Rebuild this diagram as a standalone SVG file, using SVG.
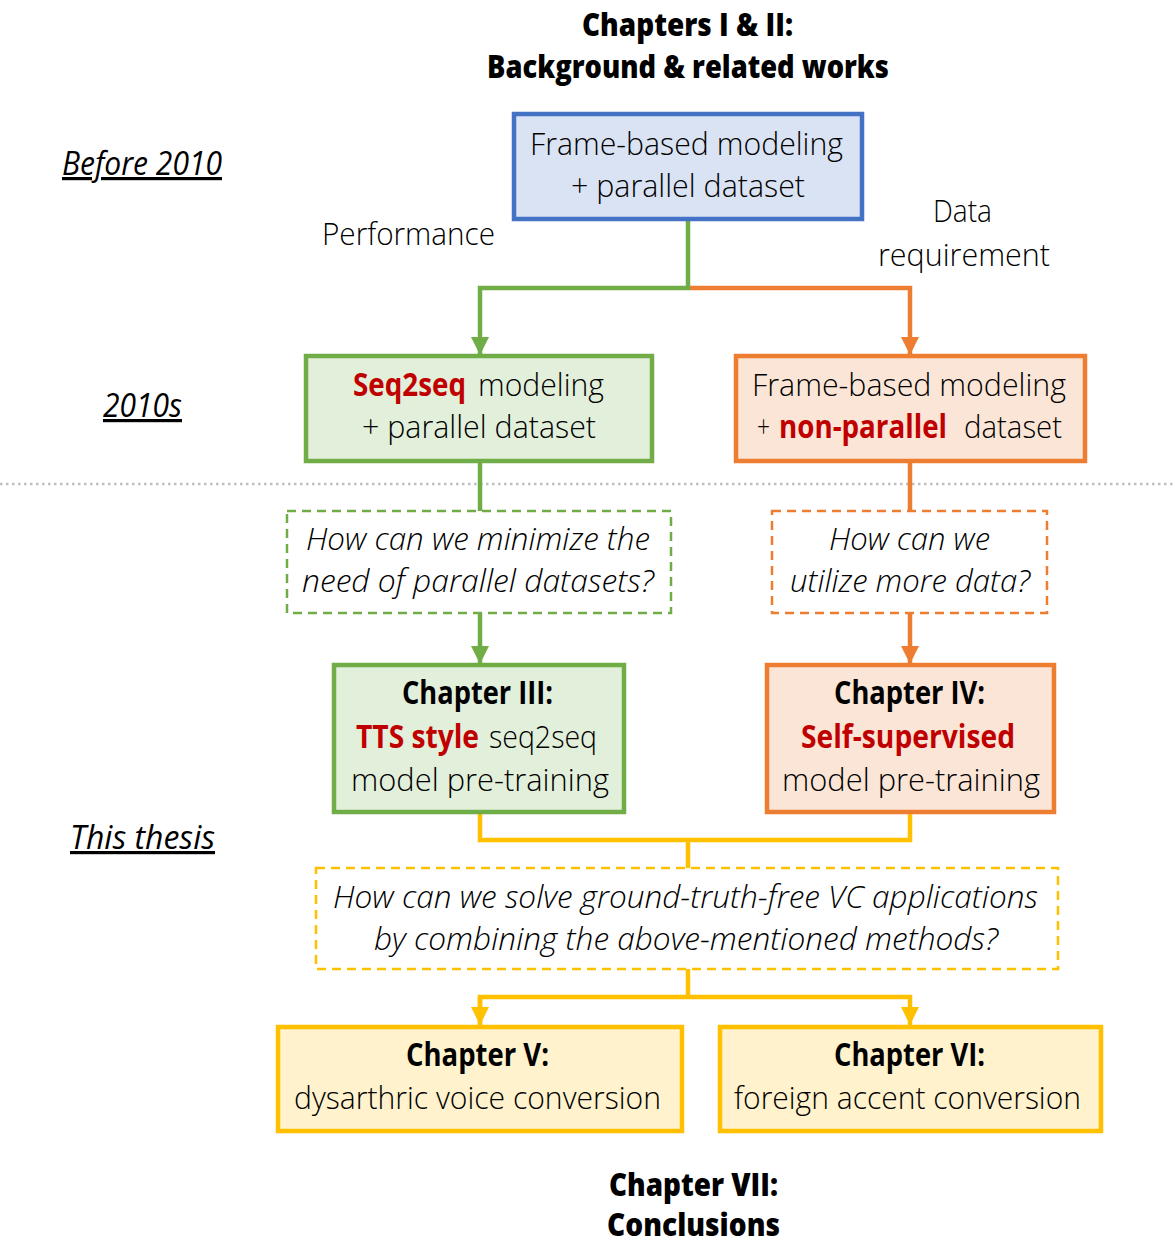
<svg xmlns="http://www.w3.org/2000/svg" width="1176" height="1245" viewBox="0 0 1176 1245">
<style>
text{font-family:"Open Sans","Noto Sans","Liberation Sans",sans-serif;fill:#000}
.t{font-size:32px;font-weight:300}
.b{font-size:32px;font-weight:700}
.r{fill:#c00000}
.i{font-size:32px;font-style:italic;font-weight:300}
.h{font-size:32px;font-weight:800}
.lab{font-size:32px;font-style:italic;font-weight:400;text-decoration:underline}
.c{stroke-width:4.5;fill:none}
.g{stroke:#70ad47}
.o{stroke:#ed7d31}
.y{stroke:#ffc000}
.box{stroke-width:4.5}
.dash{stroke-width:2.5;stroke-dasharray:9 6;fill:#fff}
</style>
<defs>
<marker id="ag" viewBox="0 0 10 10" refX="10" refY="5" markerWidth="4" markerHeight="4" orient="auto"><path d="M0,0L10,5L0,10z" fill="#70ad47"/></marker>
<marker id="ao" viewBox="0 0 10 10" refX="10" refY="5" markerWidth="4" markerHeight="4" orient="auto"><path d="M0,0L10,5L0,10z" fill="#ed7d31"/></marker>
<marker id="ay" viewBox="0 0 10 10" refX="10" refY="5" markerWidth="4" markerHeight="4" orient="auto"><path d="M0,0L10,5L0,10z" fill="#ffc000"/></marker>
</defs>

<g id="title">
<text class="h" x="582" y="36" textLength="211" lengthAdjust="spacingAndGlyphs">Chapters I &amp; II:</text>
<text class="h" x="487" y="78" textLength="402" lengthAdjust="spacingAndGlyphs">Background &amp; related works</text>
</g>

<g id="labels">
<text class="lab" x="62" y="175" textLength="160" lengthAdjust="spacingAndGlyphs">Before 2010</text>
<text class="lab" x="103" y="417" textLength="79" lengthAdjust="spacingAndGlyphs">2010s</text>
<text class="lab" x="70" y="849" textLength="145" lengthAdjust="spacingAndGlyphs">This thesis</text>
<text class="t" x="322" y="245" textLength="173" lengthAdjust="spacingAndGlyphs">Performance</text>
<text class="t" x="933" y="222" textLength="59" lengthAdjust="spacingAndGlyphs">Data</text>
<text class="t" x="878" y="266" textLength="172" lengthAdjust="spacingAndGlyphs">requirement</text>
</g>

<line id="divider" x1="0" y1="484" x2="1176" y2="484" stroke="#bfbfbf" stroke-width="2.5" stroke-dasharray="2.5 3.5"/>

<g id="connectors">
<path class="c g" d="M688,219V288H480V355" marker-end="url(#ag)"/>
<path class="c o" d="M690,288H910V355" marker-end="url(#ao)"/>
<path class="c g" d="M480,461V511"/>
<path class="c g" d="M480,613V664" marker-end="url(#ag)"/>
<path class="c o" d="M910,461V511"/>
<path class="c o" d="M910,613V664" marker-end="url(#ao)"/>
<path class="c y" d="M480,812V840H910V812M688,840V868"/>
<path class="c y" d="M688,969V997"/>
<path class="c y" d="M480,1025V997H910V1025" marker-end="url(#ay)"/>
<path class="c y" d="M480,997V1025" marker-end="url(#ay)"/>
</g>

<g id="n-frame">
<rect class="box" x="514" y="114" width="348" height="105" fill="#dae3f3" stroke="#4472c4"/>
<text class="t" x="530" y="155" textLength="313" lengthAdjust="spacingAndGlyphs">Frame-based modeling</text>
<text class="t" x="571" y="197" textLength="234" lengthAdjust="spacingAndGlyphs">+ parallel dataset</text>
</g>

<g id="n-seq2seq">
<rect class="box" x="306" y="356" width="346" height="105" fill="#e2efda" stroke="#70ad47"/>
<text class="b r" x="353" y="396" textLength="113" lengthAdjust="spacingAndGlyphs">Seq2seq</text>
<text class="t" x="478" y="396" textLength="126" lengthAdjust="spacingAndGlyphs">modeling</text>
<text class="t" x="362" y="438" textLength="234" lengthAdjust="spacingAndGlyphs">+ parallel dataset</text>
</g>

<g id="n-nonparallel">
<rect class="box" x="736" y="356" width="349" height="105" fill="#fbe5d6" stroke="#ed7d31"/>
<text class="t" x="752" y="396" textLength="314" lengthAdjust="spacingAndGlyphs">Frame-based modeling</text>
<text class="t" x="757" y="438" textLength="13" lengthAdjust="spacingAndGlyphs">+</text>
<text class="b r" x="779" y="438" textLength="168" lengthAdjust="spacingAndGlyphs">non-parallel</text>
<text class="t" x="964" y="438" textLength="98" lengthAdjust="spacingAndGlyphs">dataset</text>
</g>

<g id="q-green">
<rect class="dash" x="287" y="511" width="384" height="102" stroke="#70ad47"/>
<text class="i" x="306" y="550" textLength="344" lengthAdjust="spacingAndGlyphs">How can we minimize the</text>
<text class="i" x="302" y="592" textLength="352" lengthAdjust="spacingAndGlyphs">need of parallel datasets?</text>
</g>

<g id="q-orange">
<rect class="dash" x="772" y="511" width="275" height="102" stroke="#ed7d31"/>
<text class="i" x="829" y="550" textLength="161" lengthAdjust="spacingAndGlyphs">How can we</text>
<text class="i" x="790" y="592" textLength="240" lengthAdjust="spacingAndGlyphs">utilize more data?</text>
</g>

<g id="n-ch3">
<rect class="box" x="334" y="665" width="290" height="147" fill="#e2efda" stroke="#70ad47"/>
<text class="b" x="402" y="704" textLength="151" lengthAdjust="spacingAndGlyphs">Chapter III:</text>
<text class="b r" x="356" y="748" textLength="123" lengthAdjust="spacingAndGlyphs">TTS style</text>
<text class="t" x="489" y="748" textLength="108" lengthAdjust="spacingAndGlyphs">seq2seq</text>
<text class="t" x="351" y="791" textLength="258" lengthAdjust="spacingAndGlyphs">model pre-training</text>
</g>

<g id="n-ch4">
<rect class="box" x="767" y="665" width="287" height="147" fill="#fbe5d6" stroke="#ed7d31"/>
<text class="b" x="834" y="704" textLength="151" lengthAdjust="spacingAndGlyphs">Chapter IV:</text>
<text class="b r" x="801" y="748" textLength="214" lengthAdjust="spacingAndGlyphs">Self-supervised</text>
<text class="t" x="782" y="791" textLength="258" lengthAdjust="spacingAndGlyphs">model pre-training</text>
</g>

<g id="q-yellow">
<rect class="dash" x="316" y="868" width="742" height="101" stroke="#ffc000"/>
<text class="i" x="333" y="908" textLength="705" lengthAdjust="spacingAndGlyphs">How can we solve ground-truth-free VC applications</text>
<text class="i" x="374" y="950" textLength="624" lengthAdjust="spacingAndGlyphs">by combining the above-mentioned methods?</text>
</g>

<g id="n-ch5">
<rect class="box" x="278" y="1027" width="404" height="104" fill="#fff2cc" stroke="#ffc000"/>
<text class="b" x="406" y="1066" textLength="143" lengthAdjust="spacingAndGlyphs">Chapter V:</text>
<text class="t" x="294" y="1109" textLength="367" lengthAdjust="spacingAndGlyphs">dysarthric voice conversion</text>
</g>

<g id="n-ch6">
<rect class="box" x="720" y="1027" width="381" height="104" fill="#fff2cc" stroke="#ffc000"/>
<text class="b" x="834" y="1066" textLength="151" lengthAdjust="spacingAndGlyphs">Chapter VI:</text>
<text class="t" x="734" y="1109" textLength="347" lengthAdjust="spacingAndGlyphs">foreign accent conversion</text>
</g>

<g id="ch7">
<text class="h" x="609" y="1196" textLength="169" lengthAdjust="spacingAndGlyphs">Chapter VII:</text>
<text class="h" x="607" y="1236" textLength="173" lengthAdjust="spacingAndGlyphs">Conclusions</text>
</g>
</svg>
